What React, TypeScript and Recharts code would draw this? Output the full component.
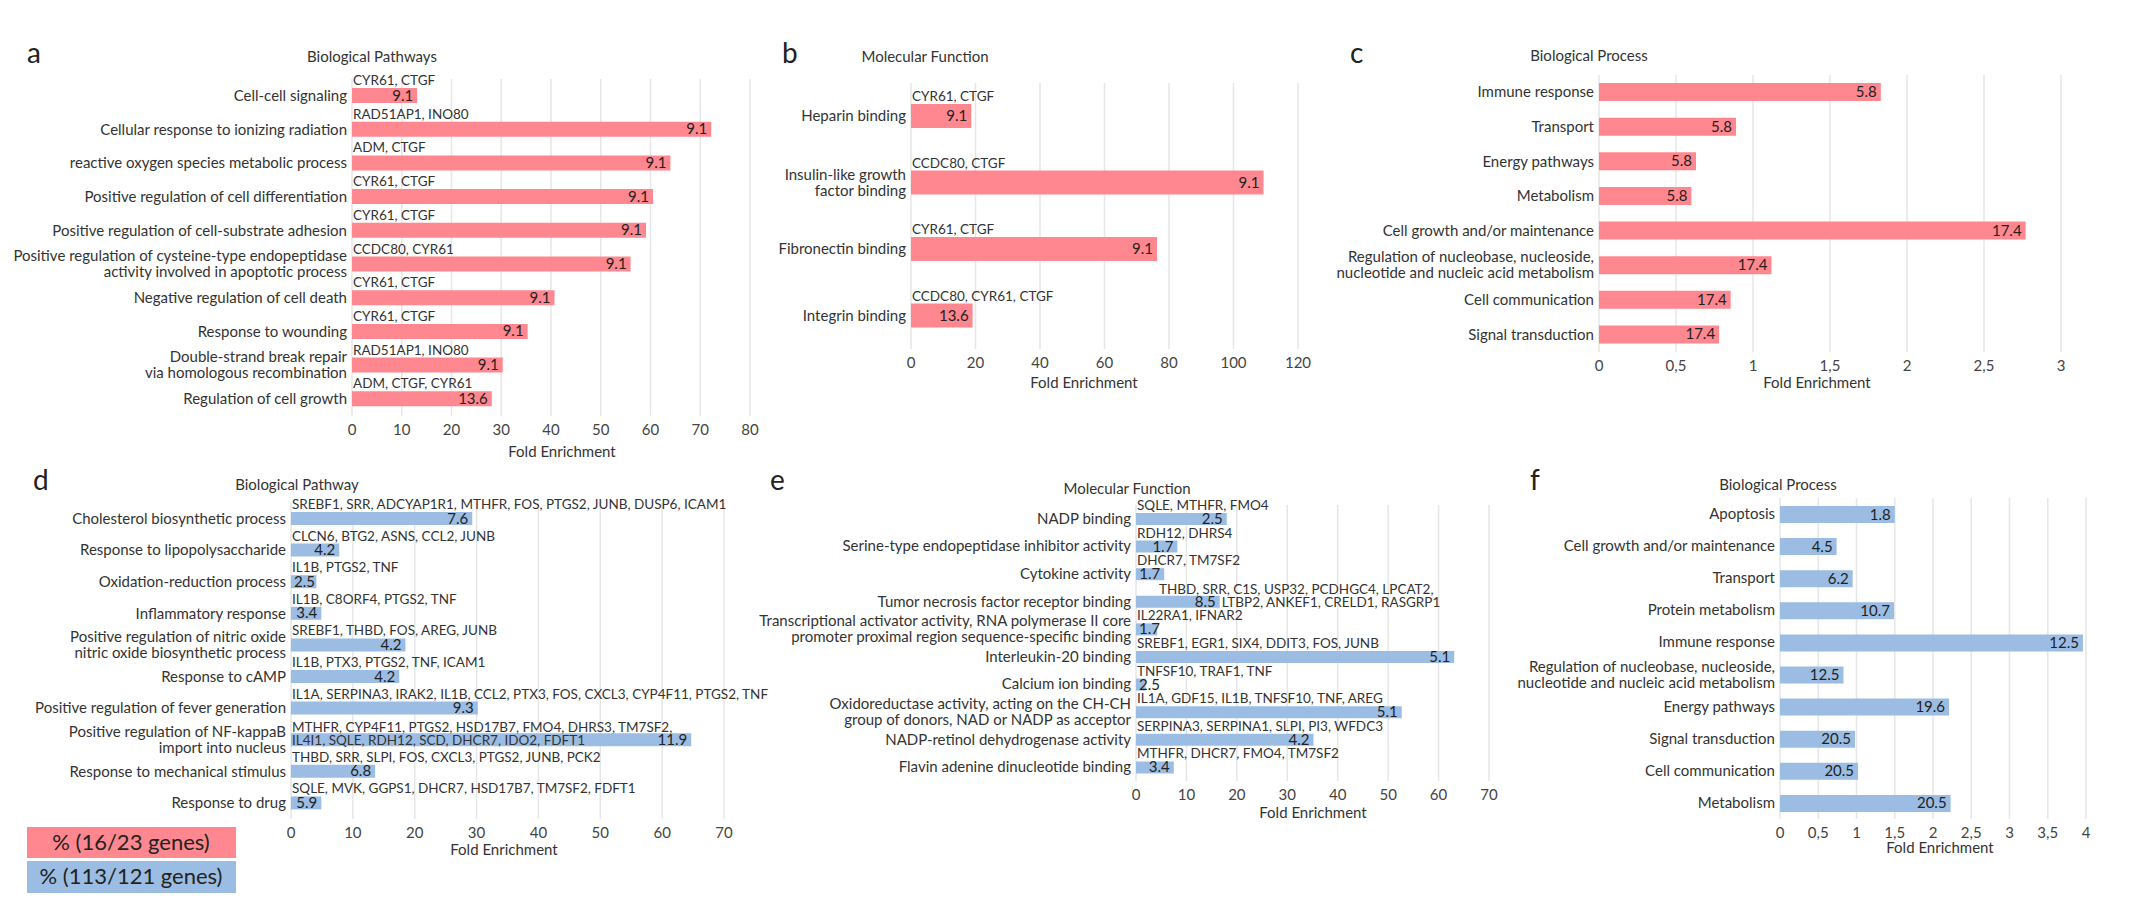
import React from 'react';
import { BarChart, Bar, XAxis, YAxis, CartesianGrid, LabelList } from 'recharts';

const FONT = 'Lato, "Noto Sans", sans-serif';
const TEXT = '#333';
const PINK = '#ff878f';
const BLUE = '#9bbde3';
const GRID = '#e6e6e6';
const FS = 15;
const GENE_FS = 13.5;

// a - Biological Pathways (16/23 genes)
const aCategories = [
  'Cell-cell signaling',
  'Cellular response to ionizing radiation',
  'reactive oxygen species metabolic process',
  'Positive regulation of cell differentiation',
  'Positive regulation of cell-substrate adhesion',
  'Positive regulation of cysteine-type endopeptidase\nactivity involved in apoptotic process',
  'Negative regulation of cell death',
  'Response to wounding',
  'Double-strand break repair\nvia homologous recombination',
  'Regulation of cell growth',
];
const aEnrichment = [13.1, 72.2, 64.0, 60.5, 59.1, 56.0, 40.7, 35.3, 30.3, 28.1];
const aPercent = ['9.1', '9.1', '9.1', '9.1', '9.1', '9.1', '9.1', '9.1', '9.1', '13.6'];
const aGenes = [
  'CYR61, CTGF', 'RAD51AP1, INO80', 'ADM, CTGF', 'CYR61, CTGF', 'CYR61, CTGF',
  'CCDC80, CYR61', 'CYR61, CTGF', 'CYR61, CTGF', 'RAD51AP1, INO80', 'ADM, CTGF, CYR61',
];

// b - Molecular Function
const bCategories = ['Heparin binding', 'Insulin-like growth\nfactor binding', 'Fibronectin binding', 'Integrin binding'];
const bEnrichment = [18.7, 109.3, 76.3, 19.1];
const bPercent = ['9.1', '9.1', '9.1', '13.6'];
const bGenes = ['CYR61, CTGF', 'CCDC80, CTGF', 'CYR61, CTGF', 'CCDC80, CYR61, CTGF'];

// c - Biological Process
const cCategories = [
  'Immune response', 'Transport', 'Energy pathways', 'Metabolism', 'Cell growth and/or maintenance',
  'Regulation of nucleobase, nucleoside,\nnucleotide and nucleic acid metabolism',
  'Cell communication', 'Signal transduction',
];
const cEnrichment = [1.83, 0.89, 0.63, 0.6, 2.77, 1.12, 0.855, 0.78];
const cPercent = ['5.8', '5.8', '5.8', '5.8', '17.4', '17.4', '17.4', '17.4'];

// d - Biological Pathway (113/121 genes)
const dCategories = [
  'Cholesterol biosynthetic process',
  'Response to lipopolysaccharide',
  'Oxidation-reduction process',
  'Inflammatory response',
  'Positive regulation of nitric oxide\nnitric oxide biosynthetic process',
  'Response to cAMP',
  'Positive regulation of fever generation',
  'Positive regulation of NF-kappaB\nimport into nucleus',
  'Response to mechanical stimulus',
  'Response to drug',
];
const dEnrichment = [29.3, 7.8, 4.1, 4.9, 18.5, 17.5, 30.2, 64.7, 13.6, 4.9];
const dPercent = ['7.6', '4.2', '2.5', '3.4', '4.2', '4.2', '9.3', '11.9', '6.8', '5.9'];
const dGenes = [
  'SREBF1, SRR, ADCYAP1R1, MTHFR, FOS, PTGS2, JUNB, DUSP6, ICAM1',
  'CLCN6, BTG2, ASNS, CCL2, JUNB',
  'IL1B, PTGS2, TNF',
  'IL1B, C8ORF4, PTGS2, TNF',
  'SREBF1, THBD, FOS, AREG, JUNB',
  'IL1B, PTX3, PTGS2, TNF, ICAM1',
  'IL1A, SERPINA3, IRAK2, IL1B, CCL2, PTX3, FOS, CXCL3, CYP4F11, PTGS2, TNF',
  'MTHFR, CYP4F11, PTGS2, HSD17B7, FMO4, DHRS3, TM7SF2,\nIL4I1, SQLE, RDH12, SCD, DHCR7, IDO2, FDFT1',
  'THBD, SRR, SLPI, FOS, CXCL3, PTGS2, JUNB, PCK2',
  'SQLE, MVK, GGPS1, DHCR7, HSD17B7, TM7SF2, FDFT1',
];

// e - Molecular Function
const eCategories = [
  'NADP binding',
  'Serine-type endopeptidase inhibitor activity',
  'Cytokine activity',
  'Tumor necrosis factor receptor binding',
  'Transcriptional activator activity, RNA polymerase II core\npromoter proximal region sequence-specific binding',
  'Interleukin-20 binding',
  'Calcium ion binding',
  'Oxidoreductase activity, acting on the CH-CH\ngroup of donors, NAD or NADP as acceptor',
  'NADP-retinol dehydrogenase activity',
  'Flavin adenine dinucleotide binding',
];
const eEnrichment = [18.0, 8.2, 5.6, 16.6, 4.2, 63.1, 1.9, 52.7, 35.2, 7.5];
const ePercent = ['2.5', '1.7', '1.7', '8.5', '1.7', '5.1', '2.5', '5.1', '4.2', '3.4'];
const eGenes = [
  'SQLE, MTHFR, FMO4',
  'RDH12, DHRS4',
  'DHCR7, TM7SF2',
  'THBD, SRR, C1S, USP32, PCDHGC4, LPCAT2,\nLTBP2, ANKEF1, CRELD1, RASGRP1',
  'IL22RA1, IFNAR2',
  'SREBF1, EGR1, SIX4, DDIT3, FOS, JUNB',
  'TNFSF10, TRAF1, TNF',
  'IL1A, GDF15, IL1B, TNFSF10, TNF, AREG',
  'SERPINA3, SERPINA1, SLPI, PI3, WFDC3',
  'MTHFR, DHCR7, FMO4, TM7SF2',
];

// f - Biological Process
const fCategories = [
  'Apoptosis', 'Cell growth and/or maintenance', 'Transport', 'Protein metabolism', 'Immune response',
  'Regulation of nucleobase, nucleoside,\nnucleotide and nucleic acid metabolism',
  'Energy pathways', 'Signal transduction', 'Cell communication', 'Metabolism',
];
const fEnrichment = [1.5, 0.74, 0.95, 1.49, 3.96, 0.83, 2.21, 0.98, 1.02, 2.23];
const fPercent = ['1.8', '4.5', '6.2', '10.7', '12.5', '12.5', '19.6', '20.5', '20.5', '20.5'];

const ticks80 = [0, 10, 20, 30, 40, 50, 60, 70, 80];
const ticks120 = [0, 20, 40, 60, 80, 100, 120];
const ticks3 = [0, 0.5, 1, 1.5, 2, 2.5, 3];
const ticks70 = [0, 10, 20, 30, 40, 50, 60, 70];
const ticks4 = [0, 0.5, 1, 1.5, 2, 2.5, 3, 3.5, 4];

type Row = { name: string; value: number; pct: string; genes: string };

const rows = (names: string[], values: number[], pcts: string[], genes?: string[]): Row[] =>
  names.map((name, i) => ({ name, value: values[i], pct: pcts[i], genes: genes ? genes[i] : '' }));

const textProps = { fill: TEXT, fontSize: FS, fontFamily: FONT };
const geneProps = { fill: TEXT, fontSize: GENE_FS, fontFamily: FONT };

function CategoryTick(props: any) {
  const { x, y, payload } = props;
  const lines = String(payload.value).split('\n');
  const lh = 16;
  const first = 5 - ((lines.length - 1) * lh) / 2;
  return (
    <text x={x} y={y} textAnchor="end" {...textProps}>
      {lines.map((l, i) => (
        <tspan key={i} x={x} dy={i === 0 ? first : lh}>{l}</tspan>
      ))}
    </text>
  );
}

const box = (props: any) => {
  const vb = props.viewBox && props.viewBox.width !== undefined ? props.viewBox : props;
  return { x: Number(vb.x), y: Number(vb.y), w: Number(vb.width), h: Number(vb.height) };
};

const valueLabel = (props: any) => {
  const { x, y, w, h } = box(props);
  const tx = Math.max(x + w - 4, x + 24);
  return (
    <text x={tx} y={y + h / 2 + 5} textAnchor="end" {...textProps} fill="#222">{props.value}</text>
  );
};

const geneLabel = (wrap: 'inside' | 'after') => (props: any) => {
  if (!props.value) return null;
  const { x, y, w, h } = box(props);
  const lines = String(props.value).split('\n');
  if (lines.length === 1) {
    return <text x={x + 1} y={y - 3} {...geneProps}>{lines[0]}</text>;
  }
  if (wrap === 'after') {
    return (
      <g>
        <text x={x + 23} y={y - 2} {...geneProps}>{lines[0]}</text>
        <text x={x + w + 2} y={y + h / 2 + 5} {...geneProps}>{lines[1]}</text>
      </g>
    );
  }
  return (
    <g>
      <text x={x + 1} y={y - 1} {...geneProps}>{lines[0]}</text>
      <text x={x + 1} y={y + h / 2 + 5} {...geneProps}>{lines[1]}</text>
    </g>
  );
};

type PanelProps = {
  data: Row[];
  color: string;
  boxLeft: number;
  x0: number;
  x1: number;
  y0: number;
  y1: number;
  rightPad: number;
  domain: [number, number];
  ticks: number[];
  barSize: number;
  comma?: boolean;
  wrap?: 'inside' | 'after';
};

function Panel(p: PanelProps) {
  const boxTop = p.y0 - 26;
  const axisH = 30;
  const width = p.x1 + p.rightPad - p.boxLeft;
  const height = p.y1 + axisH - boxTop;
  return (
    <div style={{ position: 'absolute', left: p.boxLeft, top: boxTop }}>
      <BarChart
        width={width}
        height={height}
        layout="vertical"
        data={p.data}
        margin={{ top: p.y0 - boxTop, right: p.rightPad, bottom: 0, left: 0 }}
      >
        <CartesianGrid horizontal={false} stroke={GRID} strokeWidth={1.5} />
        <XAxis
          type="number"
          domain={p.domain}
          ticks={p.ticks}
          interval={0}
          height={axisH}
          axisLine={false}
          tickLine={false}
          tick={{ fontSize: FS, fill: '#444', fontFamily: FONT }}
          tickFormatter={(v: number) => (p.comma ? String(v).replace('.', ',') : String(v))}
        />
        <YAxis
          type="category"
          dataKey="name"
          width={p.x0 - p.boxLeft}
          axisLine={false}
          tickLine={false}
          tickSize={0}
          tickMargin={5}
          interval={0}
          tick={<CategoryTick />}
        />
        <Bar dataKey="value" fill={p.color} barSize={p.barSize} isAnimationActive={false}>
          <LabelList dataKey="genes" content={geneLabel(p.wrap || 'inside')} />
          <LabelList dataKey="pct" content={valueLabel} />
        </Bar>
      </BarChart>
    </div>
  );
}

const letterStyle = { fontSize: 28, fill: '#222', fontFamily: FONT };

export default function App() {
  return (
    <div
      style={{
        position: 'absolute',
        left: 0,
        top: 0,
        width: 2132,
        height: 906,
        background: '#fff',
        fontFamily: FONT,
        overflow: 'hidden',
      }}
    >
      <Panel data={rows(aCategories, aEnrichment, aPercent, aGenes)} color={PINK} boxLeft={0}
        x0={352} x1={750} y0={79} y1={416} rightPad={20} domain={[0, 80]} ticks={ticks80} barSize={15} />
      <Panel data={rows(bCategories, bEnrichment, bPercent, bGenes)} color={PINK} boxLeft={760}
        x0={911} x1={1298} y0={83} y1={349} rightPad={20} domain={[0, 120]} ticks={ticks120} barSize={24} />
      <Panel data={rows(cCategories, cEnrichment, cPercent)} color={PINK} boxLeft={1320}
        x0={1599} x1={2061} y0={75} y1={352} rightPad={20} domain={[0, 3]} ticks={ticks3} barSize={18} comma />
      <Panel data={rows(dCategories, dEnrichment, dPercent, dGenes)} color={BLUE} boxLeft={0}
        x0={291} x1={724} y0={503} y1={819} rightPad={80} domain={[0, 70]} ticks={ticks70} barSize={13} />
      <Panel data={rows(eCategories, eEnrichment, ePercent, eGenes)} color={BLUE} boxLeft={740}
        x0={1136} x1={1489} y0={505} y1={781} rightPad={20} domain={[0, 70]} ticks={ticks70} barSize={12} wrap="after" />
      <Panel data={rows(fCategories, fEnrichment, fPercent)} color={BLUE} boxLeft={1490}
        x0={1780} x1={2086} y0={498} y1={819} rightPad={20} domain={[0, 4]} ticks={ticks4} barSize={17} comma />

      <svg width={2132} height={906} style={{ position: 'absolute', left: 0, top: 0, pointerEvents: 'none' }}>
        <text x={27} y={63} {...letterStyle}>a</text>
        <text x={782} y={63} {...letterStyle}>b</text>
        <text x={1350} y={63} {...letterStyle}>c</text>
        <text x={33} y={490} {...letterStyle}>d</text>
        <text x={770} y={490} {...letterStyle}>e</text>
        <text x={1530} y={490} {...letterStyle}>f</text>

        <text x={372} y={62} textAnchor="middle" {...textProps}>Biological Pathways</text>
        <text x={925} y={62} textAnchor="middle" {...textProps}>Molecular Function</text>
        <text x={1589} y={61} textAnchor="middle" {...textProps}>Biological Process</text>
        <text x={297} y={490} textAnchor="middle" {...textProps}>Biological Pathway</text>
        <text x={1127} y={494} textAnchor="middle" {...textProps}>Molecular Function</text>
        <text x={1778} y={490} textAnchor="middle" {...textProps}>Biological Process</text>

        <text x={562} y={457} textAnchor="middle" {...textProps}>Fold Enrichment</text>
        <text x={1084} y={388} textAnchor="middle" {...textProps}>Fold Enrichment</text>
        <text x={1817} y={388} textAnchor="middle" {...textProps}>Fold Enrichment</text>
        <text x={504} y={855} textAnchor="middle" {...textProps}>Fold Enrichment</text>
        <text x={1313} y={818} textAnchor="middle" {...textProps}>Fold Enrichment</text>
        <text x={1940} y={853} textAnchor="middle" {...textProps}>Fold Enrichment</text>

        <rect x={27} y={827} width={209} height={31} fill={PINK} />
        <rect x={27} y={861} width={209} height={32} fill={BLUE} />
        <text x={131} y={850} textAnchor="middle" fontSize={22} fill="#222" fontFamily={FONT}>% (16/23 genes)</text>
        <text x={131} y={884} textAnchor="middle" fontSize={22} fill="#222" fontFamily={FONT}>% (113/121 genes)</text>
      </svg>
    </div>
  );
}
